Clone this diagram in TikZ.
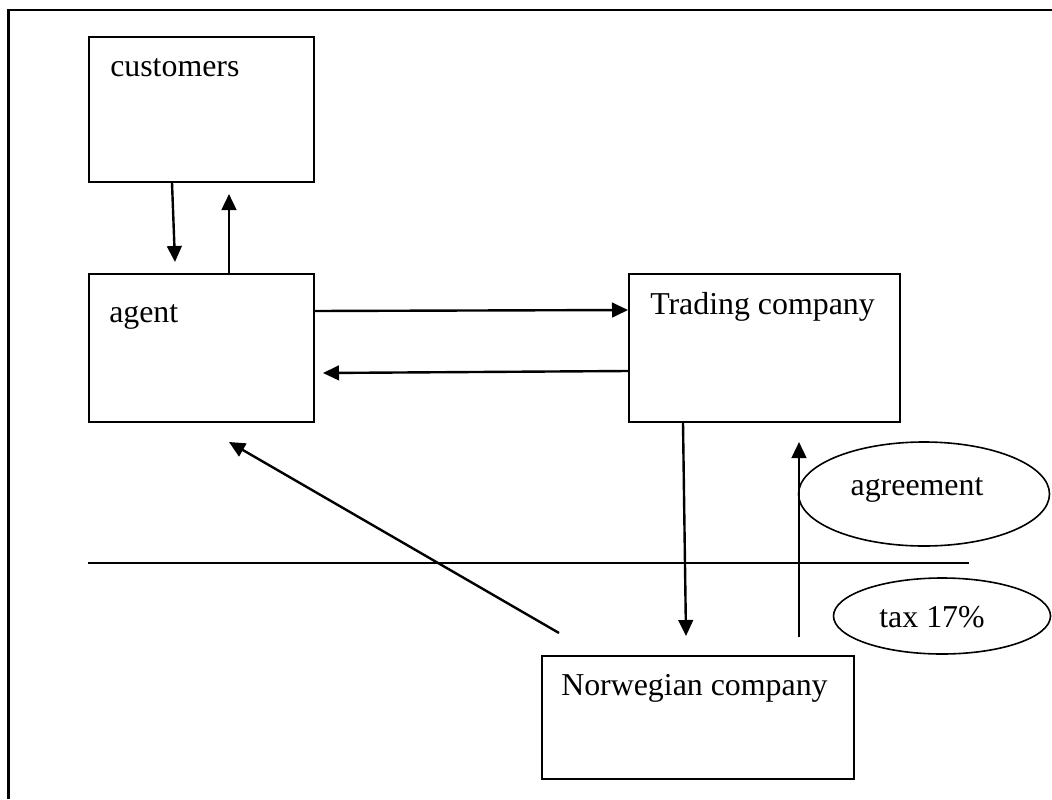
\documentclass[tikz,border=0pt]{standalone}
\usepackage{fontspec}
\setmainfont{Liberation Serif}
\usetikzlibrary{arrows.meta,shapes.geometric,calc}
\begin{document}
\begin{tikzpicture}[x=0.75pt,y=-0.75pt,
  box/.style={draw,line width=1.3pt,rectangle,anchor=north west,inner sep=0pt},
  oval/.style={draw,line width=1.2pt,ellipse,inner sep=0pt},
  lbl/.style={anchor=base west,inner sep=0pt,font=\fontsize{23.9}{28}\selectfont},
  clbl/.style={anchor=base,inner sep=0pt,font=\fontsize{23.9}{28}\selectfont},
  arr/.style={line width=1.8pt,-{Triangle[length=12pt,width=11pt]}}]
\useasboundingbox (0,0) rectangle (1052,799);
% page frame
\draw[line width=1.6pt] (1052,10) -- (8.5,10) -- (8.5,799);

% boxes
\node[box,minimum width=225*0.75pt,minimum height=145*0.75pt] (cust) at (88,36) {};
\node[box,minimum width=225*0.75pt,minimum height=148*0.75pt] (agent) at (88,273) {};
\node[box,minimum width=271*0.75pt,minimum height=148*0.75pt] (trade) at (628,273) {};
\node[box,minimum width=312*0.75pt,minimum height=123*0.75pt] (norw) at (541,655) {};
\node[oval,minimum width=251*0.75pt,minimum height=104*0.75pt] (agree) at (924,494) {};
\node[oval,minimum width=217*0.75pt,minimum height=76*0.75pt] (tax) at (942,616) {};

% labels
\node[lbl] (tcust) at (110,77) {customers};
\node[lbl] (tagent) at (109,322) {agent};
\node[lbl] (ttrade) at (650,314) {Trading company};
\node[lbl] (tnorw) at (561,695) {Norwegian company};
\node[clbl] (tagree) at (917,495) {agreement};
\node[clbl] (ttax) at (932,627) {tax 17\%};

% border line
\coordinate (bl) at (88,563);
\coordinate (br) at (969,563);
\draw[line width=1.2pt] (bl) -- (br);

% free arrow ends
\coordinate (ca) at (175,262);
\coordinate (ac) at (229,194);
\coordinate (ta) at (323,373);
\coordinate (tn) at (686,636);
\coordinate (ntS) at (799,637);
\coordinate (ntE) at (799,442);
\coordinate (naS) at (559,633);
\coordinate (naE) at (229,442);

% flows
\draw[arr] ($(cust.south west)+(84,0)$) -- (ca);
\draw[arr] ($(agent.north west)+(141,0)$) -- (ac);
\draw[arr] ($(agent.north east)+(0,38)$) -- ($(trade.north west)+(0,37)$);
\draw[arr] ($(trade.north west)+(0,98)$) -- (ta);
\draw[arr] ($(trade.south west)+(55,0)$) -- (tn);
\draw[arr] (ntS) -- (ntE);
\draw[arr] (naS) -- (naE);
\end{tikzpicture}
\end{document}
